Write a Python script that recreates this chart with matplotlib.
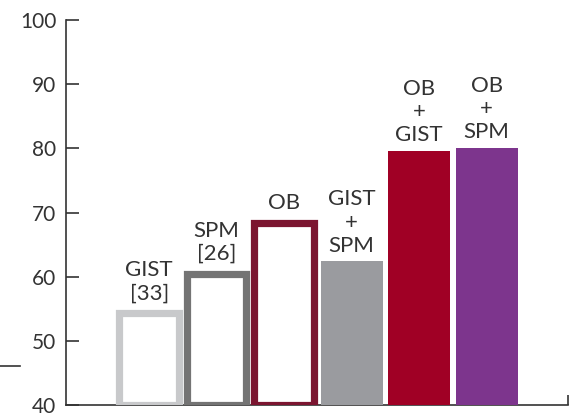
import matplotlib.pyplot as plt
from matplotlib.lines import Line2D

# === Data ===
labels = ["GIST\n[33]", "SPM\n[26]", "OB", "GIST\n+\nSPM", "OB\n+\nGIST", "OB\n+\nSPM"]
values = [54.3, 60.5, 68.4, 62.4, 79.6, 80.1]
colors = ["#c8c9cb", "#747474", "#7b1530", "#9a9b9f", "#a00025", "#7d358d"]
hollow = [True, True, True, False, False, False]

plt.rcParams["font.family"] = ["Lato", "DejaVu Sans"]
text_color = "#333333"

fig = plt.figure(figsize=(5.70, 4.19), dpi=100)
ax = fig.add_axes([0.116, 0.0334, 0.88, 0.9186])

base = 40
for i, (v, c, h) in enumerate(zip(values, colors, hollow)):
    if h:
        ax.bar(i, v - base, bottom=base, width=0.88, facecolor="white",
               edgecolor=c, linewidth=5.2, zorder=3)
    else:
        ax.bar(i, v - base, bottom=base, width=0.92, color=c, zorder=3)
    off = 7 if h else 4
    ax.annotate(labels[i], (i, v), xytext=(0, off), textcoords="offset points",
                ha="center", va="bottom", fontsize=16, color=text_color,
                linespacing=1.2)

ax.set_ylim(40, 100)
ax.set_xlim(-1.23, 6.2)
ax.set_yticks(range(40, 101, 10))
ax.set_xticks([6.2])
ax.set_xticklabels([""])

for s in ["top", "right"]:
    ax.spines[s].set_visible(False)
for s in ["left", "bottom"]:
    ax.spines[s].set_linewidth(1.2)
    ax.spines[s].set_color(text_color)

ax.tick_params(axis="y", direction="in", length=9, width=1.2, color=text_color,
               labelsize=15, labelcolor=text_color, pad=7)
ax.tick_params(axis="x", direction="in", length=7, width=1.2, color=text_color)

# stray mark on the left edge
fig.add_artist(Line2D([0.0, 0.035], [1 - 366 / 419] * 2, color=text_color,
                      linewidth=1.2, transform=fig.transFigure))

fig.savefig("out.png", dpi=100)
